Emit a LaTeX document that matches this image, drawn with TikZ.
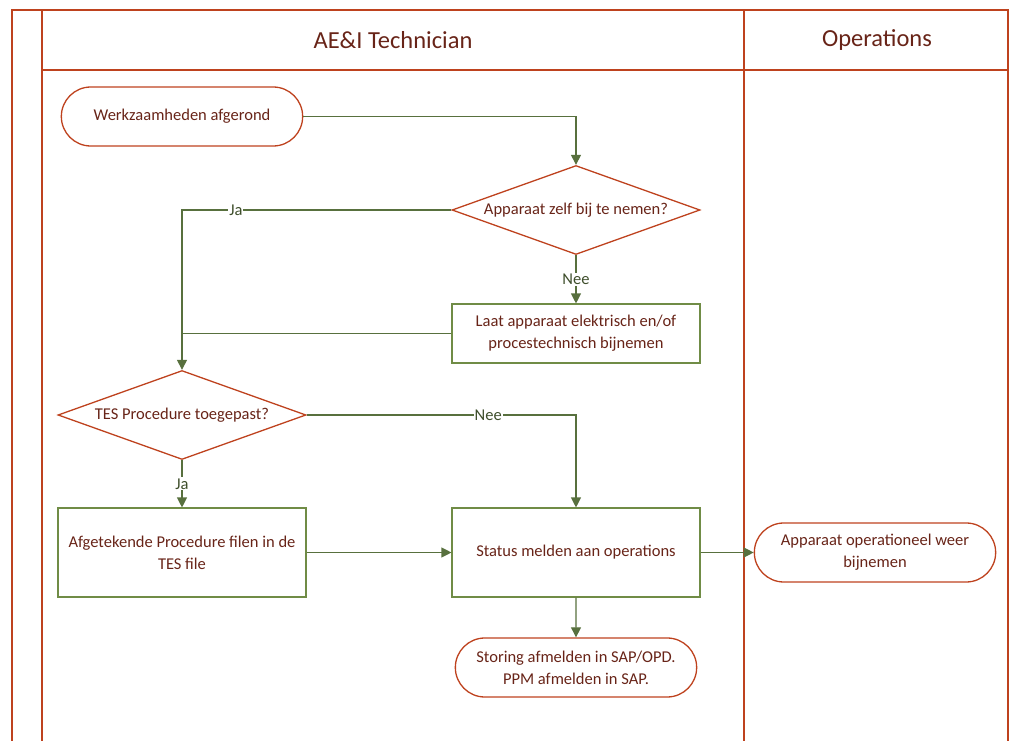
\documentclass[tikz,border=0pt]{standalone}
\usepackage{fontspec}
\setmainfont{Carlito}
\usepackage{tikz}
\definecolor{lanered}{RGB}{190,66,30}
\definecolor{txtbrown}{RGB}{104,36,24}
\definecolor{flowgreen}{RGB}{88,112,62}
\definecolor{boxgreen}{RGB}{112,140,70}
\usetikzlibrary{shapes.geometric}
\usetikzlibrary{shapes.misc}
\usetikzlibrary{arrows.meta}

\tikzset{
  lane/.style={line width=1.6pt, color=lanered},
  term/.style={rounded rectangle, draw=lanered, line width=1.3pt, minimum width=248pt, minimum height=59pt, align=center, text=txtbrown, font=\fontsize{16.5}{22}\selectfont},
  decision/.style={diamond, aspect=2.8, inner sep=0pt, draw=lanered, line width=1.3pt, minimum width=248pt, minimum height=89pt, align=center, text=txtbrown, font=\fontsize{16.5}{22}\selectfont},
  process/.style={rectangle, draw=boxgreen, line width=1.1pt, minimum width=248pt, minimum height=59pt, align=center, text=txtbrown, font=\fontsize{16.5}{22}\selectfont},
  flow/.style={line width=1.1pt, color=flowgreen, -{Triangle[length=10pt,width=10pt]}},
  flowline/.style={line width=1.1pt, color=flowgreen},
  lbl/.style={fill=white, inner sep=1pt, text=flowgreen!70!black, font=\fontsize{16.5}{20}\selectfont},
  hdr/.style={text=txtbrown, font=\fontsize{24.5}{28}\selectfont}
}

\begin{document}
\begin{tikzpicture}[x=1pt, y=-1pt]
\useasboundingbox (0,0) rectangle (1013,741);
% swimlanes
\draw [lane] (12,741) -- (12,10) -- (1008,10) -- (1008,741);
\draw [lane] (42,10) -- (42,741);
\draw [lane] (744,10) -- (744,741);
\draw [lane] (42,70) -- (1008,70);
\node (hdrtech) [hdr] at (393,40) {AE\&I Technician};
\node (hdrops) [hdr] at (877,40) {Operations};
% nodes
\node (start) [term] at (182,116.5) {Werkzaamheden afgerond};
\node (zelf) [decision] at (576,210) {Apparaat zelf bij te nemen?};
\node (laat) [process] at (576,333.5) {Laat apparaat elektrisch en/of\\procestechnisch bijnemen};
\node (tes) [decision] at (182,415) {TES Procedure toegepast?};
\node (filen) [process, minimum height=89pt] at (182,552.5) {Afgetekende Procedure filen in de\\TES file};
\node (status) [process, minimum height=89pt] at (576,552.5) {Status melden aan operations};
\node (storing) [term] at (576,667.5) {Storing afmelden in SAP/OPD.\\PPM afmelden in SAP.};
\node (operat) [term] at (875,552.5) {Apparaat operationeel weer\\bijnemen};
\coordinate (join) at (182,333.5);
% connectors
\draw [flow] (start.east) -| (zelf.north);
\draw [flow] (zelf.west) -| node[lbl, pos=0.4] {Ja} (tes.north);
\draw [flow] (zelf.south) -- node[lbl] {Nee} (laat.north);
\draw [flowline] (laat.west) -- (join);
\draw [flow] (tes.east) -| node[lbl, pos=0.337] {Nee} (status.north);
\draw [flow] (tes.south) -- node[lbl] {Ja} (filen.north);
\draw [flow] (filen) -- (status);
\draw [flow] (status) -- (operat);
\draw [flow] (status) -- (storing);
\end{tikzpicture}
\end{document}
